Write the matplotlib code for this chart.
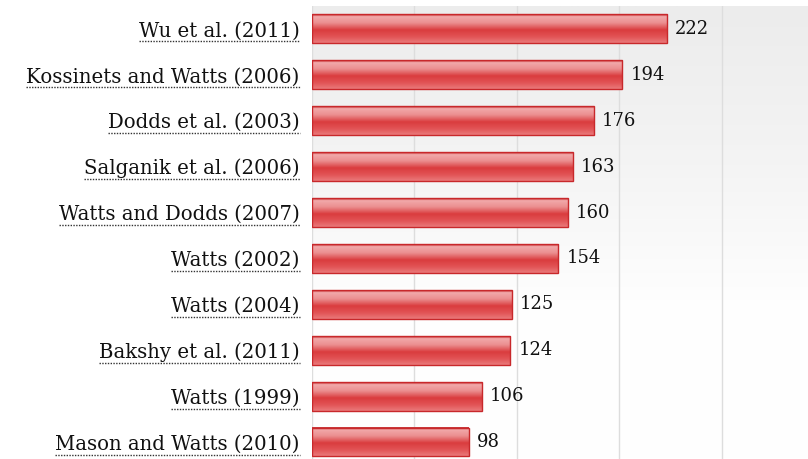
import numpy as np
import matplotlib.pyplot as plt
from matplotlib.colors import LinearSegmentedColormap
from matplotlib.lines import Line2D

# data
labels = ["Wu et al. (2011)", "Kossinets and Watts (2006)", "Dodds et al. (2003)",
          "Salganik et al. (2006)", "Watts and Dodds (2007)", "Watts (2002)",
          "Watts (2004)", "Bakshy et al. (2011)", "Watts (1999)", "Mason and Watts (2010)"]
values = [222, 194, 176, 163, 160, 154, 125, 124, 106, 98]

plt.rcParams['font.family'] = ['DejaVu Serif']

fig = plt.figure(figsize=(8.08, 4.59), dpi=100)
ax = fig.add_axes([312 / 808, 0, 1 - 312 / 808, 1 - 6 / 459])

n = len(values)
ypos = np.arange(n)
h = 0.63
xmax = 310
ytop, ybot = -0.5, n - 1 + 0.37

# background gradient (gray at top fading to white)
bg = LinearSegmentedColormap.from_list(
    "bg", [(0, "#ececec"), (0.35, "#f4f4f4"), (0.65, "#fefefe"), (1, "#ffffff")])
ax.imshow(np.linspace(0, 1, 256).reshape(-1, 1), cmap=bg, aspect="auto",
          extent=(0, xmax, ybot, ytop), zorder=0)

# bar gradient
barcm = LinearSegmentedColormap.from_list(
    "bar", [(0.0, "#c42a2c"), (0.08, "#f2a9aa"), (0.3, "#eb8f90"),
            (0.55, "#da3c3e"), (0.8, "#e25557"), (1.0, "#ea7a7b")])
grad = np.linspace(0, 1, 64).reshape(-1, 1)
for y, v in zip(ypos, values):
    ax.imshow(grad, cmap=barcm, aspect="auto",
              extent=(0, v, y + h / 2, y - h / 2), zorder=2)
    ax.add_patch(plt.Rectangle((0, y - h / 2), v, h, fill=False,
                               edgecolor="#c8282b", lw=1.0, zorder=3))
    ax.text(v + 5, y, str(v), va="center", ha="left", fontsize=13,
            color="#111111", zorder=4)

ax.set_xlim(0, xmax)
ax.set_ylim(ybot, ytop)
ax.set_xticks(np.arange(64, xmax, 64))
ax.grid(axis="x", color="#dddddd", lw=1, zorder=1)
ax.tick_params(axis="x", length=0, labelbottom=False)
ax.set_yticks(ypos)
ax.set_yticklabels(labels, fontsize=14.2, color="#111111")
ax.tick_params(axis="y", length=0, pad=9)
for s in ax.spines.values():
    s.set_visible(False)
ax.axvline(0, color="#dddddd", lw=1, zorder=1)

# dotted underline under category labels
fig.canvas.draw()
r = fig.canvas.get_renderer()
for t in ax.get_yticklabels():
    bb = t.get_window_extent(r)
    yy = (bb.y0 - 1) / fig.bbox.height
    fig.add_artist(Line2D([bb.x0 / fig.bbox.width, bb.x1 / fig.bbox.width], [yy, yy],
                          color="#333333", lw=1, ls=(0, (1, 1))))

fig.savefig("out.png", dpi=100)
